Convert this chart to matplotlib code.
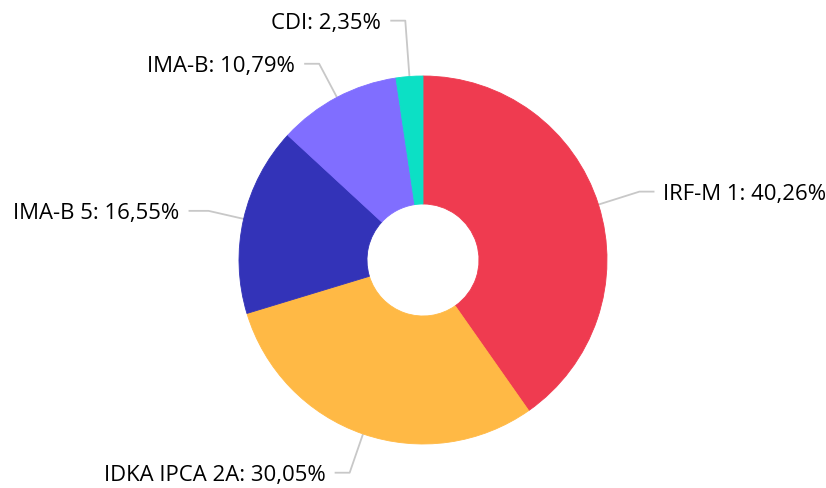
import numpy as np
import matplotlib
matplotlib.use("Agg")
import matplotlib.pyplot as plt

labels = ["IRF-M 1", "IDKA IPCA 2A", "IMA-B 5", "IMA-B", "CDI"]
values = [40.26, 30.05, 16.55, 10.79, 2.35]
colors = ["#EF3B50", "#FFB945", "#3333B8", "#806EFF", "#0CE0C5"]

W, H = 826, 488
fig = plt.figure(figsize=(W / 100, H / 100), dpi=100)
ax = fig.add_axes([0, 0, 1, 1])

cx, cy = 423, H - 260
R, r_in = 184, 56

wedges, _ = ax.pie(values, colors=colors, center=(cx, cy), radius=R,
                   startangle=90, counterclock=False,
                   wedgeprops=dict(width=R - r_in, linewidth=0.6))
for w, c in zip(wedges, colors):
    w.set_edgecolor(c)

ax.set_xlim(0, W)
ax.set_ylim(0, H)
ax.set_aspect("equal")
ax.axis("off")

# label elbow radius tweaks (pixels) to mimic layout
elbow_r = [227, 225, 220, 222, 240]
seg_len = [15, 15, 20, 15, 15]
total = sum(values)
cum = 0
for lab, v, er, sl in zip(labels, values, elbow_r, seg_len):
    mid = (cum + v / 2) / total * 360
    cum += v
    th = np.deg2rad(mid)
    dx, dy = np.sin(th), np.cos(th)
    p0 = (cx + R * dx, cy + R * dy)
    p1 = (cx + er * dx, cy + er * dy)
    side = 1 if dx > 0 else -1
    p2 = (p1[0] + side * sl, p1[1])
    ax.plot([p0[0], p1[0], p2[0]], [p0[1], p1[1], p2[1]], color="#C8C8C8",
            lw=1.3, solid_capstyle="butt", zorder=0)
    txt = f"{lab}: {v:.2f}%".replace(".", ",")
    ax.text(p2[0] + side * 9, p2[1] - 3, txt, ha="left" if side > 0 else "right",
            va="center", fontsize=15.9, family=["Open Sans", "DejaVu Sans"],
            color="#000000")

fig.savefig("out.png", dpi=100)
